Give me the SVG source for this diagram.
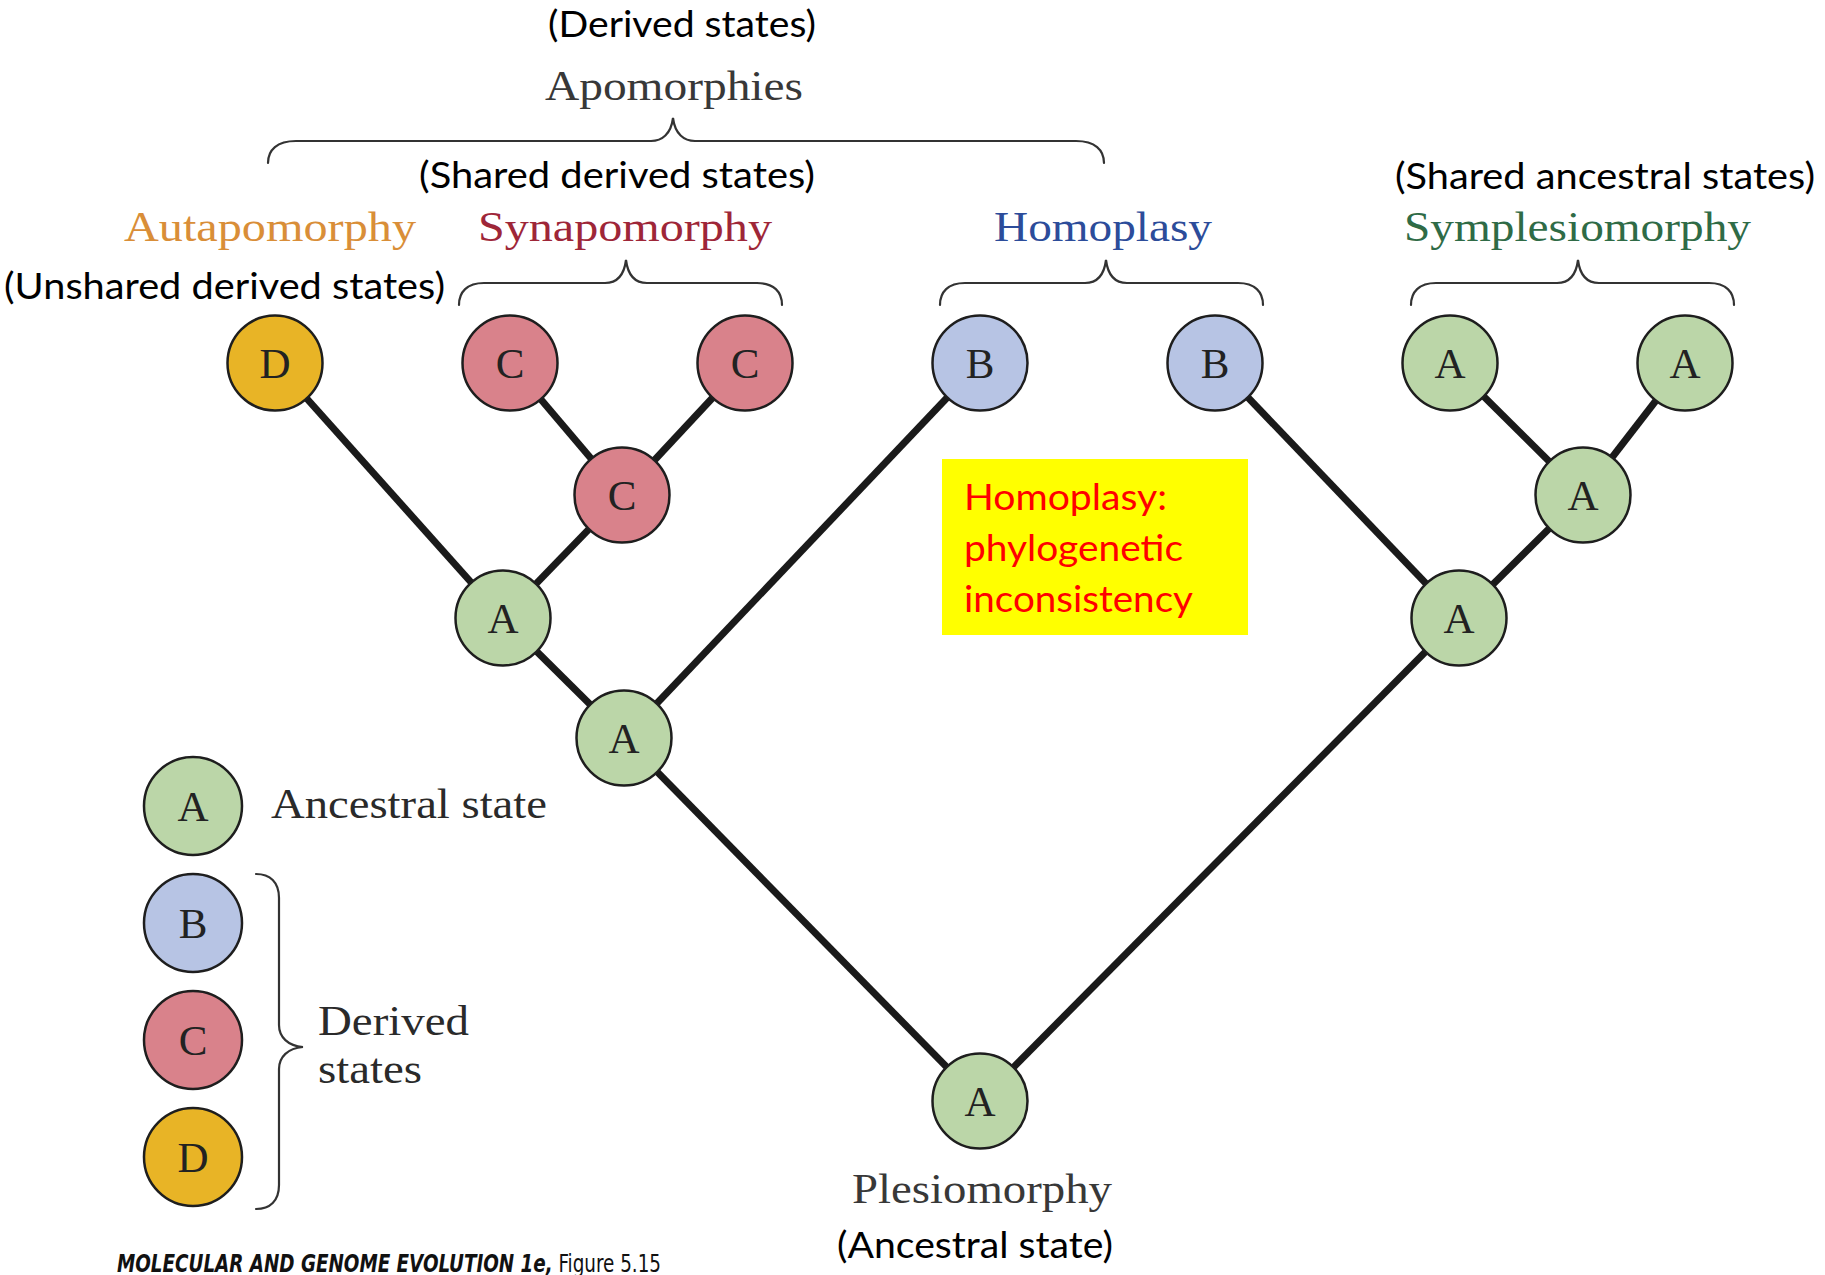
<svg xmlns="http://www.w3.org/2000/svg" width="1825" height="1275" viewBox="0 0 1825 1275">
  <style>
    .edge { stroke: #1a1a1a; stroke-width: 7; stroke-linecap: butt; fill: none; }
    .brace { stroke: #333; stroke-width: 2.2; fill: none; stroke-linecap: round; }
    .node circle { stroke: #1e1e1e; stroke-width: 2.5; }
    .node text { font-family: "Liberation Serif", "DejaVu Serif", serif; font-size: 43px; fill: #222; text-anchor: middle; }
    .a circle { fill: #bbd6a8; }
    .b circle { fill: #b7c4e4; }
    .c circle { fill: #d9828b; }
    .d circle { fill: #e8b426; }
    .note { font-family: Lato, "Open Sans", "Noto Sans", sans-serif; font-size: 37px; fill: #000; }
    .term { font-family: "Liberation Serif", "DejaVu Serif", serif; font-size: 43px; }
    .hl { font-family: Lato, "Open Sans", "Noto Sans", sans-serif; font-size: 37px; fill: #ff0000; }
    .foot { font-family: "Liberation Sans Narrow", "DejaVu Sans Condensed", "Liberation Sans", sans-serif; font-size: 24px; fill: #111; }
  </style>

  <rect width="1825" height="1275" fill="#ffffff"/>

  <!-- branches of the tree -->
  <g id="connectors">
    <line class="edge" x1="275" y1="363" x2="503" y2="618"/>
    <line class="edge" x1="510" y1="363" x2="622" y2="495"/>
    <line class="edge" x1="745" y1="363" x2="622" y2="495"/>
    <line class="edge" x1="622" y1="495" x2="503" y2="618"/>
    <line class="edge" x1="503" y1="618" x2="624" y2="738"/>
    <line class="edge" x1="980" y1="363" x2="624" y2="738"/>
    <line class="edge" x1="624" y1="738" x2="980" y2="1101"/>
    <line class="edge" x1="1215" y1="363" x2="1459" y2="618"/>
    <line class="edge" x1="1450" y1="363" x2="1583" y2="495"/>
    <line class="edge" x1="1685" y1="363" x2="1583" y2="495"/>
    <line class="edge" x1="1583" y1="495" x2="1459" y2="618"/>
    <line class="edge" x1="1459" y1="618" x2="980" y2="1101"/>
  </g>

  <!-- tree nodes -->
  <g id="leaf-d" class="node d"><circle cx="275" cy="363" r="47.5"/><text x="275" y="378">D</text></g>
  <g id="leaf-c1" class="node c"><circle cx="510" cy="363" r="47.5"/><text x="510" y="378">C</text></g>
  <g id="leaf-c2" class="node c"><circle cx="745" cy="363" r="47.5"/><text x="745" y="378">C</text></g>
  <g id="leaf-b1" class="node b"><circle cx="980" cy="363" r="47.5"/><text x="980" y="378">B</text></g>
  <g id="leaf-b2" class="node b"><circle cx="1215" cy="363" r="47.5"/><text x="1215" y="378">B</text></g>
  <g id="leaf-a1" class="node a"><circle cx="1450" cy="363" r="47.5"/><text x="1450" y="378">A</text></g>
  <g id="leaf-a2" class="node a"><circle cx="1685" cy="363" r="47.5"/><text x="1685" y="378">A</text></g>
  <g id="inner-c" class="node c"><circle cx="622" cy="495" r="47.5"/><text x="622" y="510">C</text></g>
  <g id="inner-a-left" class="node a"><circle cx="503" cy="618" r="47.5"/><text x="503" y="633">A</text></g>
  <g id="inner-a-low" class="node a"><circle cx="624" cy="738" r="47.5"/><text x="624" y="753">A</text></g>
  <g id="inner-a-rmid" class="node a"><circle cx="1583" cy="495" r="47.5"/><text x="1583" y="510">A</text></g>
  <g id="inner-a-right" class="node a"><circle cx="1459" cy="618" r="47.5"/><text x="1459" y="633">A</text></g>
  <g id="root" class="node a"><circle cx="980" cy="1101" r="47.5"/><text x="980" y="1116">A</text></g>

  <!-- braces over the groups of tips -->
  <g id="braces">
    <path class="brace" d="M268,163 C268,150 277,141 296,141 L651,141 C662,141 671,134 673,118 C675,134 684,141 695,141 L1076,141 C1095,141 1104,150 1104,163"/>
    <path class="brace" d="M459,305 C459,292 467,283 484,283 L605,283 C616,283 624,276 626,260 C628,276 636,283 647,283 L757,283 C774,283 782,292 782,305"/>
    <path class="brace" d="M940,305 C940,292 948,283 965,283 L1085,283 C1096,283 1104,276 1106,260 C1108,276 1116,283 1127,283 L1238,283 C1255,283 1263,292 1263,305"/>
    <path class="brace" d="M1411,305 C1411,292 1419,283 1436,283 L1557,283 C1568,283 1576,276 1578,260 C1580,276 1588,283 1599,283 L1709,283 C1726,283 1734,292 1734,305"/>
  </g>

  <!-- category labels -->
  <g id="labels">
    <text class="note" x="548" y="37" textLength="268" lengthAdjust="spacingAndGlyphs">(Derived states)</text>
    <text class="term" x="545" y="100" fill="#383838" textLength="258" lengthAdjust="spacingAndGlyphs">Apomorphies</text>
    <text class="note" x="419" y="188" textLength="396" lengthAdjust="spacingAndGlyphs">(Shared derived states)</text>
    <text class="note" x="1395" y="189" textLength="420" lengthAdjust="spacingAndGlyphs">(Shared ancestral states)</text>
    <text class="term" x="124" y="241" fill="#d98e38" textLength="292" lengthAdjust="spacingAndGlyphs">Autapomorphy</text>
    <text class="term" x="478" y="241" fill="#9e2638" textLength="294" lengthAdjust="spacingAndGlyphs">Synapomorphy</text>
    <text class="term" x="994" y="241" fill="#2c4c9a" textLength="218" lengthAdjust="spacingAndGlyphs">Homoplasy</text>
    <text class="term" x="1404" y="241" fill="#2f6b46" textLength="347" lengthAdjust="spacingAndGlyphs">Symplesiomorphy</text>
    <text class="note" x="4" y="299" textLength="441" lengthAdjust="spacingAndGlyphs">(Unshared derived states)</text>
    <text class="term" x="852" y="1203" fill="#383838" font-size="45" textLength="260" lengthAdjust="spacingAndGlyphs">Plesiomorphy</text>
    <text class="note" x="837" y="1258" textLength="276" lengthAdjust="spacingAndGlyphs">(Ancestral state)</text>
  </g>

  <!-- highlighted note -->
  <g id="homoplasy-note">
    <rect x="942" y="459" width="306" height="176" fill="#ffff00"/>
    <text class="hl" x="964" y="510" textLength="203" lengthAdjust="spacingAndGlyphs">Homoplasy:</text>
    <text class="hl" x="964" y="561" textLength="219" lengthAdjust="spacingAndGlyphs">phylogenetic</text>
    <text class="hl" x="964" y="612" textLength="229" lengthAdjust="spacingAndGlyphs">inconsistency</text>
  </g>

  <!-- legend -->
  <g id="legend">
    <g id="legend-a" class="node a"><circle cx="193" cy="806" r="49"/><text x="193" y="821">A</text></g>
    <g id="legend-b" class="node b"><circle cx="193" cy="923" r="49"/><text x="193" y="938">B</text></g>
    <g id="legend-c" class="node c"><circle cx="193" cy="1040" r="49"/><text x="193" y="1055">C</text></g>
    <g id="legend-d" class="node d"><circle cx="193" cy="1157" r="49"/><text x="193" y="1172">D</text></g>
    <text class="term" x="271" y="818" fill="#2a2a2a" font-size="46" textLength="276" lengthAdjust="spacingAndGlyphs">Ancestral state</text>
    <path class="brace" d="M256,874 C270,874 279,882 279,898 L279,1025 C279,1037 288,1046 303,1047 C288,1048 279,1057 279,1069 L279,1185 C279,1201 270,1209 256,1209"/>
    <text class="term" x="318" y="1035" fill="#2a2a2a" font-size="46" textLength="151" lengthAdjust="spacingAndGlyphs">Derived</text>
    <text class="term" x="318" y="1083" fill="#2a2a2a" font-size="46" textLength="104" lengthAdjust="spacingAndGlyphs">states</text>
  </g>

  <!-- figure credit: one line, bold italic title then upright figure number -->
  <g id="credit">
    <text class="foot" x="117" y="1272" textLength="544" lengthAdjust="spacingAndGlyphs"><tspan font-style="italic" font-weight="bold">MOLECULAR AND GENOME EVOLUTION 1e,</tspan> Figure 5.15</text>
  </g>
</svg>
